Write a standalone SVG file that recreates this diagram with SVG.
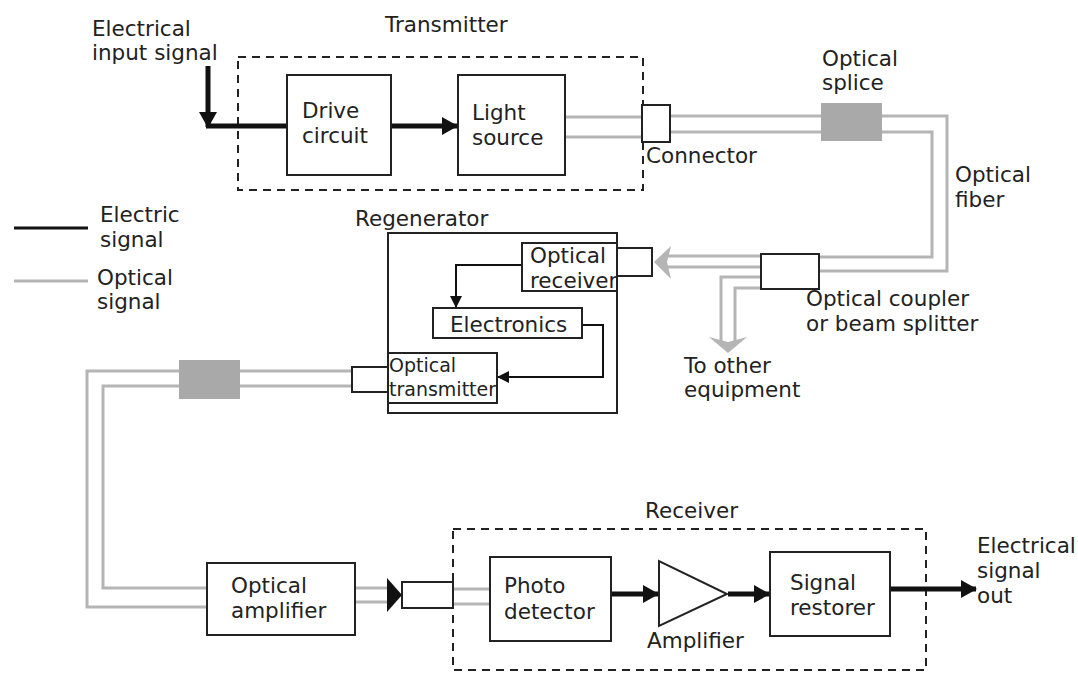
<svg xmlns="http://www.w3.org/2000/svg" width="1078" height="673" viewBox="0 0 1078 673">
<defs>
<style>
.box{fill:#fff;stroke:#222;stroke-width:2}
.dash{fill:none;stroke:#222;stroke-width:2;stroke-dasharray:8 6}
.t{font-family:"DejaVu Sans",Verdana,sans-serif;font-size:21.5px;fill:#222}
.s{font-size:19px}
.opt{fill:none;stroke:#b5b5b5;stroke-width:3}
.el{fill:none;stroke:#111;stroke-width:5}
.elt{fill:none;stroke:#111;stroke-width:2}
.splice{fill:#a9a9a9}
.garr{fill:#b5b5b5}
</style>
<marker id="ah" markerUnits="userSpaceOnUse" markerWidth="16" markerHeight="18" refX="15" refY="9" orient="auto"><path d="M0,0 L16,9 L0,18 z" fill="#111"/></marker>
<marker id="ahs" markerUnits="userSpaceOnUse" markerWidth="12" markerHeight="12" refX="11" refY="6" orient="auto"><path d="M0,0 L12,6 L0,12 z" fill="#111"/></marker>
</defs>
<rect width="1078" height="673" fill="#fff"/>

<g id="legend">
  <line x1="14" y1="228" x2="88" y2="228" stroke="#111" stroke-width="3"/>
  <text class="t" x="100" y="222">Electric</text>
  <text class="t" x="100" y="247">signal</text>
  <line x1="14" y1="281" x2="88" y2="281" stroke="#b5b5b5" stroke-width="3"/>
  <text class="t" x="97" y="285">Optical</text>
  <text class="t" x="97" y="309">signal</text>
</g>

<g id="input-label">
  <text class="t" x="92" y="36">Electrical</text>
  <text class="t" x="92" y="60">input signal</text>
</g>

<g id="transmitter">
  <rect class="dash" x="238" y="57" width="405" height="133"/>
  <text class="t" x="385" y="32">Transmitter</text>
</g>
<g id="drive-circuit">
  <rect class="box" x="287" y="75" width="104" height="100"/>
  <text class="t" x="302" y="118">Drive</text>
  <text class="t" x="302" y="143">circuit</text>
</g>
<g id="light-source">
  <rect class="box" x="458" y="75" width="107" height="100"/>
  <text class="t" x="472" y="120">Light</text>
  <text class="t" x="472" y="145">source</text>
</g>
<g id="connector">
  <rect class="box" x="642" y="105" width="28" height="37"/>
  <text class="t" x="646" y="163">Connector</text>
</g>
<g id="optical-splice">
  <rect class="splice" x="821" y="103" width="61" height="38"/>
  <text class="t" x="822" y="66">Optical</text>
  <text class="t" x="822" y="90">splice</text>
</g>
<g id="optical-fiber">
  <text class="t" x="955" y="182">Optical</text>
  <text class="t" x="955" y="207">fiber</text>
</g>
<g id="coupler">
  <rect class="box" x="761" y="254" width="58" height="35"/>
  <text class="t" x="806" y="306">Optical coupler</text>
  <text class="t" x="806" y="331">or beam splitter</text>
</g>
<g id="other-equipment">
  <text class="t" x="684" y="373">To other</text>
  <text class="t" x="684" y="397">equipment</text>
</g>

<g id="regenerator">
  <rect class="box" x="388" y="233" width="229" height="180"/>
  <text class="t" x="355" y="226">Regenerator</text>
</g>
<g id="optical-receiver">
  <rect class="box" x="522" y="243" width="95" height="48"/>
  <text class="t" x="530" y="263">Optical</text>
  <text class="t" x="530" y="288">receiver</text>
</g>
<g id="regen-in-connector">
  <rect class="box" x="617" y="248" width="35" height="28"/>
</g>
<g id="electronics">
  <rect class="box" x="433" y="308" width="149" height="30"/>
  <text class="t" x="450" y="332">Electronics</text>
</g>
<g id="optical-transmitter">
  <rect class="box" x="388" y="353" width="109" height="50"/>
  <text class="t s" x="389" y="372">Optical</text>
  <text class="t s" x="389" y="396">transmitter</text>
</g>
<g id="regen-out-connector">
  <rect class="box" x="352" y="367" width="36" height="25"/>
</g>
<g id="splice-2">
  <rect class="splice" x="179" y="360" width="61" height="39"/>
</g>

<g id="optical-amplifier">
  <rect class="box" x="207" y="563" width="148" height="72"/>
  <text class="t" x="231" y="593">Optical</text>
  <text class="t" x="231" y="618">amplifier</text>
</g>
<g id="receiver-connector">
  <rect class="box" x="402" y="582" width="51" height="26"/>
</g>
<g id="receiver">
  <rect class="dash" x="453" y="529" width="473" height="141"/>
  <text class="t" x="645" y="518">Receiver</text>
</g>
<g id="photo-detector">
  <rect class="box" x="490" y="557" width="121" height="84"/>
  <text class="t" x="504" y="593">Photo</text>
  <text class="t" x="504" y="619">detector</text>
</g>
<g id="amplifier">
  <polygon class="box" points="659,561 659,626 727,594"/>
  <text class="t" x="647" y="648">Amplifier</text>
</g>
<g id="signal-restorer">
  <rect class="box" x="770" y="552" width="120" height="84"/>
  <text class="t" x="790" y="590">Signal</text>
  <text class="t" x="790" y="615">restorer</text>
</g>
<g id="output-label">
  <text class="t" x="977" y="553">Electrical</text>
  <text class="t" x="977" y="578">signal</text>
  <text class="t" x="977" y="603">out</text>
</g>

<g id="connectors">
  <path class="el" d="M208,66 V127" marker-end="url(#ah)"/>
  <path class="el" d="M206,126 H286"/>
  <path class="el" d="M392,126 H457" marker-end="url(#ah)"/>
  <path class="opt" d="M566,117 H641 M566,137 H641"/>
  <path class="opt" d="M671,116 H821 M671,132 H821"/>
  <path class="opt" d="M882,116 H947 V271 H820"/>
  <path class="opt" d="M882,132 H932 V257 H820"/>
  <path class="opt" d="M760,256 H665 M760,267 H665"/>
  <polygon class="garr" points="654,262 671,246 667,262 671,279"/>
  <path class="opt" d="M760,277 H721 V341"/>
  <path class="opt" d="M760,288 H735 V341"/>
  <polygon class="garr" points="709,337 728,342 747,337 728,353"/>
  <path class="elt" d="M521,265 H456 V307" marker-end="url(#ahs)"/>
  <path class="elt" d="M583,325 H603 V377 H498" marker-end="url(#ahs)"/>
  <path class="opt" d="M351,371 H240 M179,371 H87 V607 H206"/>
  <path class="opt" d="M351,386 H240 M179,386 H103 V588 H206"/>
  <path class="opt" d="M356,588 H388 M356,602 H388"/>
  <polygon points="387,578 402,595 387,612" fill="#111"/>
  <path class="opt" d="M454,589 H489 M454,604 H489"/>
  <path class="el" d="M612,594 H658" marker-end="url(#ah)"/>
  <path class="el" d="M728,594 H769" marker-end="url(#ah)"/>
  <path class="el" d="M891,589 H976" marker-end="url(#ah)"/>
</g>
</svg>
